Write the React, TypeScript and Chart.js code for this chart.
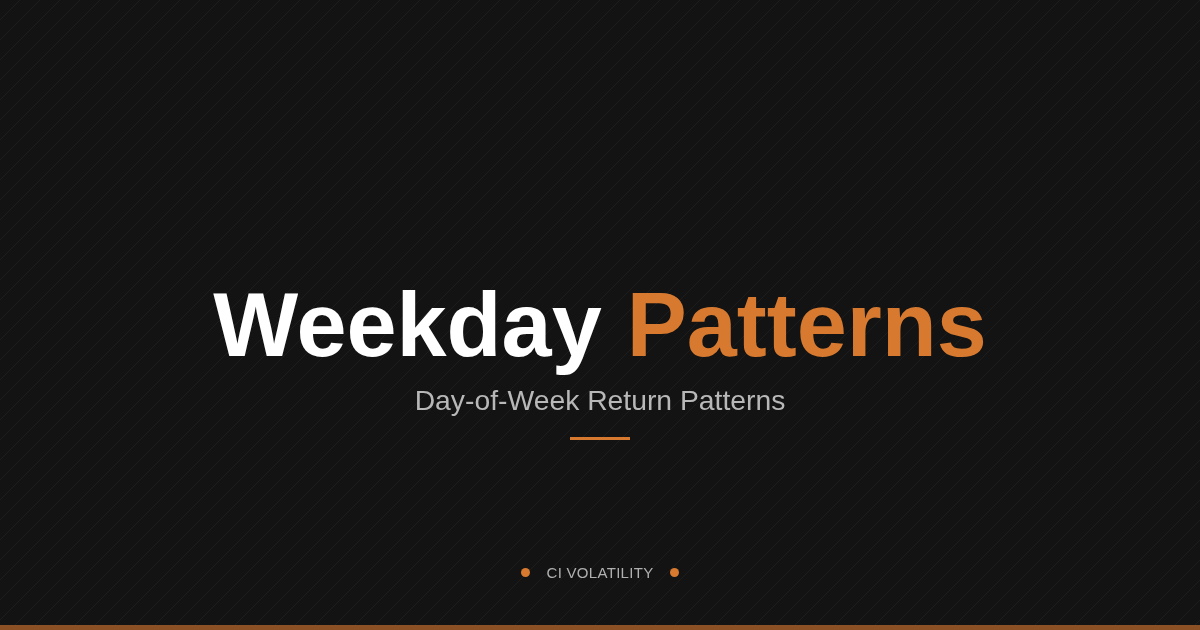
import React, { useEffect, useRef } from "react";
import { Chart, registerables } from "chart.js";

Chart.register(...registerables);

// card texts
const titleWords = ["Weekday", "Patterns"];
const subtitle = "Day-of-Week Return Patterns";
const footerLabel = "CI VOLATILITY";

const ORANGE = "#d77a30";
const BG = "#131313";
const FONT = '"Liberation Sans", Arial, Helvetica, sans-serif';

// background: dark fill, thin diagonal hatching and the accent bar at the bottom
const cardBackground = {
  id: "cardBackground",
  beforeDraw: (chart: Chart) => {
    const { ctx, width, height } = chart;
    ctx.save();
    ctx.fillStyle = BG;
    ctx.fillRect(0, 0, width, height);
    ctx.strokeStyle = "rgba(255, 255, 255, 0.045)";
    ctx.lineWidth = 1;
    ctx.beginPath();
    for (let k = -height; k < width + height; k += 20) {
      ctx.moveTo(k, height);
      ctx.lineTo(k + height, 0);
    }
    ctx.stroke();
    ctx.fillStyle = "#8b5024";
    ctx.fillRect(0, height - 5, width, 5);
    ctx.restore();
  },
};

export default function App() {
  const chartRef = useRef<HTMLCanvasElement>(null);
  const chartInstanceRef = useRef<Chart | null>(null);

  useEffect(() => {
    document.body.style.margin = "0";
    if (!chartRef.current) return;
    const ctx = chartRef.current.getContext("2d");
    if (!ctx) return;

    if (chartInstanceRef.current) {
      chartInstanceRef.current.destroy();
    }

    chartInstanceRef.current = new Chart(ctx, {
      type: "scatter",
      data: { datasets: [] },
      options: {
        responsive: false,
        animation: false,
        layout: { padding: 0 },
        plugins: {
          legend: { display: false },
          tooltip: { enabled: false },
        },
        scales: {
          x: { display: false },
          y: { display: false },
        },
      },
      plugins: [cardBackground],
    });

    return () => {
      if (chartInstanceRef.current) {
        chartInstanceRef.current.destroy();
        chartInstanceRef.current = null;
      }
    };
  }, []);

  return (
    <div
      style={{
        position: "relative",
        width: 1200,
        height: 630,
        overflow: "hidden",
        fontFamily: FONT,
        background: BG,
      }}
    >
      <canvas
        ref={chartRef}
        width={1200}
        height={630}
        style={{ position: "absolute", left: 0, top: 0, width: 1200, height: 630 }}
      />
      <div
        style={{
          position: "absolute",
          left: 0,
          top: 280,
          width: "100%",
          textAlign: "center",
          fontSize: 90,
          fontWeight: 700,
          lineHeight: 1,
          whiteSpace: "nowrap",
        }}
      >
        <span style={{ color: "#ffffff" }}>{titleWords[0]}</span>{" "}
        <span style={{ color: ORANGE }}>{titleWords[1]}</span>
      </div>
      <div
        style={{
          position: "absolute",
          left: 0,
          top: 386,
          width: "100%",
          textAlign: "center",
          fontSize: 28.3,
          lineHeight: 1,
          color: "#b8b8b8",
        }}
      >
        {subtitle}
      </div>
      <div
        style={{
          position: "absolute",
          left: 570,
          top: 437,
          width: 60,
          height: 3,
          background: ORANGE,
        }}
      />
      <div
        style={{
          position: "absolute",
          left: 0,
          top: 565,
          width: "100%",
          display: "flex",
          justifyContent: "center",
          alignItems: "center",
          fontSize: 15,
          lineHeight: 1,
          color: "#b0b0b0",
        }}
      >
        <span
          style={{ width: 9, height: 9, borderRadius: "50%", background: ORANGE, marginRight: 17 }}
        />
        <span style={{ letterSpacing: 0.3 }}>{footerLabel}</span>
        <span
          style={{ width: 9, height: 9, borderRadius: "50%", background: ORANGE, marginLeft: 17 }}
        />
      </div>
    </div>
  );
}
